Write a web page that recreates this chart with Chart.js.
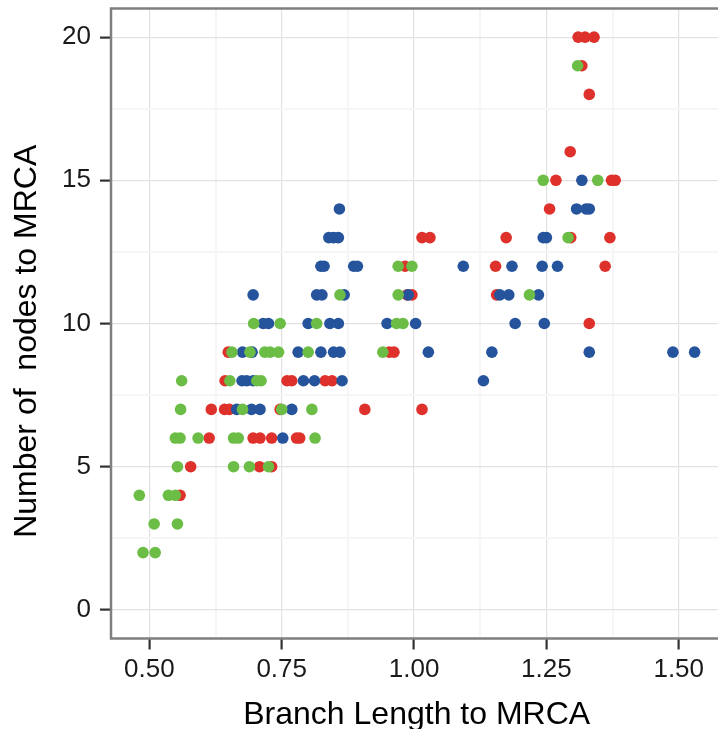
<!DOCTYPE html>
<html>
<head>
<meta charset="utf-8">
<script src="https://cdn.jsdelivr.net/npm/chart.js@4.4.1/dist/chart.umd.min.js"></script>
<style>
  html, body { margin: 0; padding: 0; background: #fff; overflow: hidden; }
  #wrap { width: 740px; height: 729px; }
</style>
</head>
<body>
<div id="wrap"><canvas id="c" width="740" height="729"></canvas></div>
<script>
// Points as [branch length, nodes to MRCA]
const greenPoints = [
  [0.488, 2], [0.511, 2],
  [0.509, 3], [0.553, 3],
  [0.481, 4], [0.536, 4], [0.549, 4],
  [0.553, 5], [0.659, 5], [0.689, 5], [0.725, 5],
  [0.549, 6], [0.558, 6], [0.592, 6], [0.659, 6], [0.668, 6], [0.813, 6],
  [0.559, 7], [0.676, 7], [0.750, 7], [0.807, 7],
  [0.561, 8], [0.652, 8], [0.703, 8], [0.711, 8],
  [0.656, 9], [0.690, 9], [0.718, 9], [0.728, 9], [0.744, 9], [0.800, 9], [0.941, 9],
  [0.697, 10], [0.747, 10], [0.816, 10], [0.967, 10], [0.979, 10],
  [0.860, 11], [0.970, 11], [1.218, 11],
  [0.970, 12], [0.996, 12],
  [1.291, 13],
  [1.244, 15], [1.347, 15],
  [1.309, 19]
];
const redPoints = [
  [0.558, 4],
  [0.578, 5], [0.708, 5], [0.731, 5],
  [0.613, 6], [0.696, 6], [0.709, 6], [0.731, 6], [0.778, 6], [0.784, 6],
  [0.617, 7], [0.642, 7], [0.651, 7], [0.747, 7], [0.907, 7], [1.015, 7],
  [0.643, 8], [0.760, 8], [0.769, 8], [0.832, 8], [0.845, 8],
  [0.649, 9], [0.953, 9], [0.962, 9],
  [1.331, 10],
  [0.987, 11], [0.996, 11], [1.156, 11],
  [0.983, 12], [1.154, 12], [1.361, 12],
  [1.015, 13], [1.030, 13], [1.174, 13], [1.296, 13], [1.370, 13],
  [1.256, 14],
  [1.268, 15], [1.373, 15], [1.380, 15],
  [1.295, 16],
  [1.331, 18],
  [1.317, 19],
  [1.310, 20], [1.323, 20], [1.340, 20]
];
const bluePoints = [
  [0.752, 6],
  [0.665, 7], [0.693, 7], [0.709, 7], [0.769, 7],
  [0.675, 8], [0.684, 8], [0.696, 8], [0.791, 8], [0.812, 8], [0.864, 8], [1.131, 8],
  [0.676, 9], [0.694, 9], [0.781, 9], [0.824, 9], [0.848, 9], [0.860, 9], [1.027, 9],
  [1.147, 9], [1.331, 9], [1.489, 9], [1.530, 9],
  [0.715, 10], [0.725, 10], [0.800, 10], [0.841, 10], [0.857, 10], [0.949, 10],
  [1.003, 10], [1.191, 10], [1.246, 10],
  [0.696, 11], [0.816, 11], [0.826, 11], [0.868, 11], [0.989, 11], [1.162, 11],
  [1.179, 11], [1.235, 11],
  [0.824, 12], [0.830, 12], [0.886, 12], [0.893, 12], [1.093, 12], [1.185, 12],
  [1.242, 12], [1.271, 12],
  [0.839, 13], [0.848, 13], [0.857, 13], [1.244, 13], [1.250, 13],
  [0.859, 14], [1.307, 14], [1.325, 14], [1.331, 14],
  [1.317, 15]
];

const xMajorTicks = [0.5, 0.75, 1.0, 1.25, 1.5];
const xMinorTicks = [0.625, 0.875, 1.125, 1.375];
const yMajorTicks = [0, 5, 10, 15, 20];
const yMinorTicks = [2.5, 7.5, 12.5, 17.5];

const xTitle = 'Branch Length to MRCA';
// trailing blanks as in the original label, they push the text down a bit
const yTitle = 'Number of  nodes to MRCA    ';

const FONT = "'Liberation Sans', Arial, Helvetica, sans-serif";
Chart.defaults.font.family = FONT;

const toXY = pts => pts.map(p => ({ x: p[0], y: p[1] }));
const isMajor = (list, v) => list.some(m => Math.abs(m - v) < 1e-9);

// ggplot-ish panel border (right edge falls outside the window anyway)
const panelBorder = {
  id: 'panelBorder',
  afterDraw(chart) {
    const { left, right, top, bottom } = chart.chartArea;
    const ctx = chart.ctx;
    ctx.save();
    ctx.strokeStyle = '#7f7f7f';
    ctx.lineWidth = 2.5;
    ctx.beginPath();
    ctx.moveTo(right + 2, top);
    ctx.lineTo(left, top);
    ctx.lineTo(left, bottom);
    ctx.lineTo(right + 2, bottom);
    ctx.stroke();
    ctx.restore();
  }
};

function gridOpts(major) {
  return {
    color: ctx => isMajor(major, ctx.tick.value) ? '#e2e2e2' : '#f6f6f7',
    lineWidth: ctx => isMajor(major, ctx.tick.value) ? 1.2 : 2,
    tickColor: ctx => isMajor(major, ctx.tick.value) ? '#333333' : 'rgba(0,0,0,0)',
    tickWidth: 2.2,
    tickLength: 11,
    drawTicks: true,
  };
}

const pointStyle = color => ({
  backgroundColor: color,
  borderWidth: 0,
  pointRadius: 5.8,
  pointHoverRadius: 5.8,
});

new Chart(document.getElementById('c'), {
  type: 'scatter',
  data: {
    datasets: [
      Object.assign({ label: 'green', data: toXY(greenPoints) }, pointStyle('#6bbd45')),
      Object.assign({ label: 'blue', data: toXY(bluePoints) }, pointStyle('#26549c')),
      Object.assign({ label: 'red', data: toXY(redPoints) }, pointStyle('#df312b')),
    ]
  },
  options: {
    responsive: false,
    animation: false,
    layout: { padding: { top: 8.5, right: 17.6, left: 0, bottom: 0 } },
    plugins: { legend: { display: false }, tooltip: { enabled: false } },
    scales: {
      x: {
        type: 'linear',
        min: 0.4275,
        max: 1.5825,
        afterBuildTicks: s => { s.ticks = xMajorTicks.concat(xMinorTicks).sort((a, b) => a - b).map(v => ({ value: v })); },
        afterFit: s => { s.height = 90.5; s.paddingLeft = 0; s.paddingRight = 0; },
        grid: gridOpts(xMajorTicks),
        border: { display: false },
        ticks: {
          autoSkip: false,
          maxRotation: 0,
          padding: 5,
          color: '#1a1a1a',
          font: { size: 26 },
          callback: v => isMajor(xMajorTicks, v) ? v.toFixed(2) : '',
        },
        title: {
          display: true,
          text: xTitle,
          color: '#000',
          font: { size: 32, lineHeight: 1 },
          padding: { top: 0, bottom: -2 },
        }
      },
      y: {
        type: 'linear',
        min: -1,
        max: 21,
        afterBuildTicks: s => { s.ticks = yMajorTicks.concat(yMinorTicks).sort((a, b) => a - b).map(v => ({ value: v })); },
        afterFit: s => { s.width = 111; s.paddingTop = 0; s.paddingBottom = 0; },
        grid: gridOpts(yMajorTicks),
        border: { display: false },
        ticks: {
          autoSkip: false,
          padding: 9,
          color: '#1a1a1a',
          font: { size: 26 },
          callback: v => isMajor(yMajorTicks, v) ? String(v) : '',
        },
        title: {
          display: true,
          text: yTitle,
          color: '#000',
          font: { size: 32, lineHeight: 1 },
          padding: { top: 11, bottom: 0 },
        }
      }
    }
  },
  plugins: [panelBorder]
});
</script>
</body>
</html>
